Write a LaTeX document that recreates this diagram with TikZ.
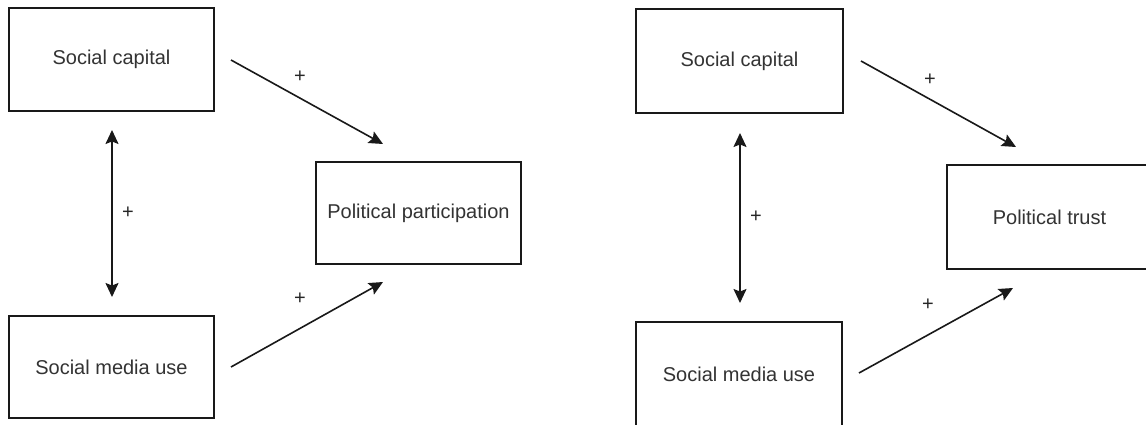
\documentclass[tikz,border=0pt]{standalone}
\usepackage{fontspec}
\setmainfont{Liberation Sans}
\usetikzlibrary{arrows.meta}
\begin{document}
\begin{tikzpicture}[x=1pt,y=-1pt,
  varbox/.style={draw=black!90, line width=1.8pt, fill=white, inner sep=0pt,
    font=\fontsize{20}{24}\selectfont, text=black!80},
  conn/.style={line width=1.6pt, draw=black!90, -{Stealth[length=14pt,width=13pt,inset=2.5pt]}},
  biconn/.style={line width=1.6pt, draw=black!90, {Stealth[length=14pt,width=13pt,inset=2.5pt]}-{Stealth[length=14pt,width=13pt,inset=2.5pt]}},
  plus/.style={font=\fontsize{20}{24}\selectfont, text=black!85, inner sep=0pt}]
\fill[white] (0,0) rectangle (1146,425);
\clip (0,0) rectangle (1146,425);
\useasboundingbox (0,0) rectangle (1146,425);
% left diagram
\node[varbox, minimum width=205pt, minimum height=103pt] (sc1) at (111.5,59.5) {Social capital};
\node[varbox, minimum width=205pt, minimum height=102pt] (sm1) at (111.5,367) {Social media use};
\node[varbox, minimum width=205pt, minimum height=102pt] (pp) at (418.5,213) {Political participation};
\coordinate (a1s) at (231,60);
\coordinate (a1e) at (383,144);
\coordinate (a2s) at (231,367);
\coordinate (a2e) at (383,282);
\coordinate (v1t) at (112,130);
\coordinate (v1b) at (112,297);
\draw[conn] (a1s) -- (a1e);
\draw[conn] (a2s) -- (a2e);
\draw[biconn] (v1b) -- (v1t);
\node[plus] (p1) at (300,77) {+};
\node[plus] (p2) at (300,299) {+};
\node[plus] (p3) at (128,213) {+};
% right diagram
\node[varbox, minimum width=207pt, minimum height=104pt] (sc2) at (739.5,61) {Social capital};
\node[varbox, minimum width=206pt, minimum height=104pt] (sm2) at (739,374) {Social media use};
\node[varbox, minimum width=205pt, minimum height=104pt] (pt) at (1049.5,217) {Political trust};
\coordinate (b1s) at (861,61);
\coordinate (b1e) at (1016,147);
\coordinate (b2s) at (859,373);
\coordinate (b2e) at (1013,288);
\coordinate (v2t) at (740,133);
\coordinate (v2b) at (740,303);
\draw[conn] (b1s) -- (b1e);
\draw[conn] (b2s) -- (b2e);
\draw[biconn] (v2b) -- (v2t);
\node[plus] (q1) at (930,80) {+};
\node[plus] (q2) at (928,305) {+};
\node[plus] (q3) at (756,217) {+};
\end{tikzpicture}
\end{document}
